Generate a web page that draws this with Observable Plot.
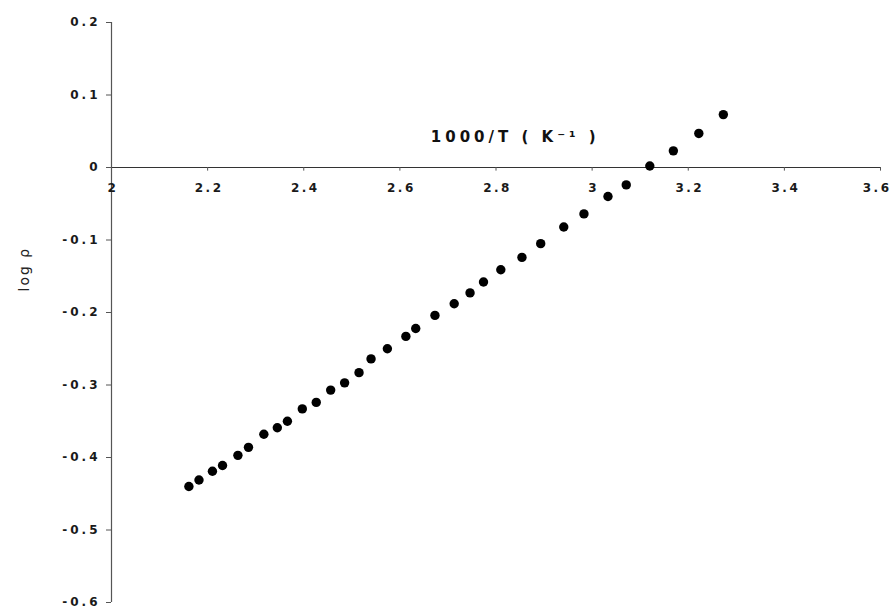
<!DOCTYPE html>
<html>
<head>
<meta charset="utf-8">
<script src="https://cdn.jsdelivr.net/npm/d3@7"></script>
<script src="https://cdn.jsdelivr.net/npm/@observablehq/plot@0.6"></script>
<style>
  html, body { margin: 0; padding: 0; background: #fff; }
  #chart svg { font-family: "DejaVu Sans", Arial, sans-serif; }
  #chart svg .tk text { letter-spacing: 3px; }
  #chart svg .tkx text { letter-spacing: 2.5px; }
  #chart svg .ttl text { letter-spacing: 4px; }
  #chart svg .ylab text { letter-spacing: 2px; }
</style>
</head>
<body>
<div id="chart"></div>
<script>
// inverse temperature 1000/T (K^-1)
const invT = [2.161, 2.182, 2.210, 2.231, 2.263, 2.285, 2.317, 2.345, 2.366, 2.397,
  2.426, 2.456, 2.485, 2.515, 2.540, 2.574, 2.6125, 2.633, 2.673, 2.713,
  2.746, 2.774, 2.810, 2.854, 2.893, 2.941, 2.983, 3.033, 3.071, 3.120,
  3.169, 3.222, 3.273];
// log rho
const logRho = [-0.440, -0.431, -0.419, -0.411, -0.397, -0.386, -0.368, -0.359, -0.350, -0.333,
  -0.324, -0.307, -0.297, -0.283, -0.264, -0.250, -0.233, -0.222, -0.204, -0.188,
  -0.173, -0.158, -0.141, -0.124, -0.105, -0.082, -0.064, -0.040, -0.024, 0.002,
  0.023, 0.047, 0.073];
const xTicks = [2, 2.2, 2.4, 2.6, 2.8, 3, 3.2, 3.4, 3.6];
const yTicks = [0.2, 0.1, 0, -0.1, -0.2, -0.3, -0.4, -0.5, -0.6];
const xTitle = "1000/T ( K\u207B\u00B9 )";
const yTitle = "log \u03C1";

const points = invT.map((x, i) => ({x, y: logRho[i]}));
const fmt = d => d === 0 ? "0" : (Number.isInteger(d) ? String(d) : String(+d.toFixed(1)));
const xInner = xTicks.slice(0, -1);
const xLast = xTicks.slice(-1);

const plot = Plot.plot({
  width: 893,
  height: 609,
  marginLeft: 111,
  marginRight: 13,
  marginTop: 22,
  marginBottom: 7,
  x: {domain: [2, 3.6], axis: null},
  y: {domain: [-0.6, 0.2], axis: null},
  marks: [
    Plot.ruleX([2], {stroke: "#555", strokeWidth: 1.2}),
    Plot.axisY(yTicks, {
      className: "tk",
      tickSize: 5,
      tickPadding: 6,
      tickFormat: fmt,
      fontSize: 12,
      fontWeight: "bold",
      fill: "#1a1a1a",
      color: "#555",
      label: null
    }),
    Plot.ruleY([0], {stroke: "#333", strokeWidth: 1.2}),
    Plot.ruleX(xTicks, {x: d => d, y1: 0, y2: -0.005, stroke: "#555"}),
    Plot.text(xInner, {
      className: "tkx",
      x: d => d, y: 0, dy: 21, dx: 1.5,
      text: fmt,
      fontSize: 12, fontWeight: "bold", fill: "#1a1a1a"
    }),
    Plot.text(xLast, {
      className: "tkx",
      x: d => d, y: 0, dy: 21, dx: 11,
      textAnchor: "end",
      text: fmt,
      fontSize: 12, fontWeight: "bold", fill: "#1a1a1a"
    }),
    Plot.text([xTitle], {
      className: "ttl",
      x: 2.84, y: 0, dy: -30,
      text: d => d,
      fontSize: 15, fontWeight: "bold", fill: "#111"
    }),
    Plot.text([yTitle], {
      className: "ylab",
      frameAnchor: "left",
      dx: -87, dy: -21,
      rotate: -90,
      text: d => d,
      fontSize: 14, fill: "#222"
    }),
    Plot.dot(points, {x: "x", y: "y", r: 4.7, fill: "#000", stroke: null})
  ]
});
document.getElementById("chart").appendChild(plot);
</script>
</body>
</html>
